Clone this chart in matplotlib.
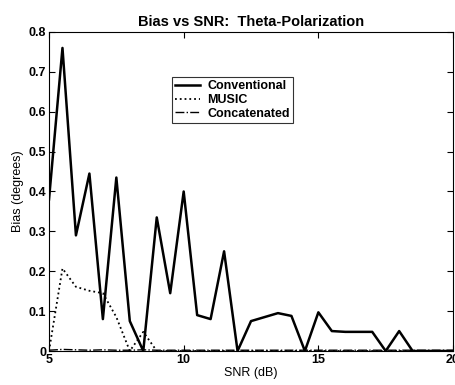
import matplotlib
matplotlib.use("Agg")
import matplotlib.pyplot as plt

snr = [5 + 0.5 * i for i in range(31)]

conventional = [0.38, 0.76, 0.29, 0.445, 0.08, 0.435, 0.075, 0.0, 0.335, 0.145,
                0.40, 0.09, 0.08, 0.25, 0.0, 0.075, 0.085, 0.095, 0.088, 0.0,
                0.097, 0.05, 0.048, 0.048, 0.048, 0.0, 0.05, 0.0, 0.0, 0.0, 0.0]

music = [0.0, 0.207, 0.161, 0.151, 0.145, 0.085, 0.0, 0.048, 0.0, 0.0,
         0.0, 0.0, 0.0, 0.0, 0.0, 0.0, 0.0, 0.0, 0.0, 0.0,
         0.0, 0.0, 0.0, 0.0, 0.0, 0.0, 0.0, 0.0, 0.0, 0.0, 0.0]

concatenated = [0.002, 0.004, 0.003, 0.002, 0.003, 0.002, 0.002, 0.003, 0.002, 0.002,
                0.002, 0.002, 0.002, 0.002, 0.002, 0.002, 0.002, 0.002, 0.002, 0.002,
                0.002, 0.002, 0.002, 0.002, 0.002, 0.002, 0.002, 0.002, 0.002, 0.002, 0.002]

plt.rcParams['font.family'] = ['Liberation Sans', 'DejaVu Sans']

fig = plt.figure(figsize=(4.55, 3.85), dpi=100)
ax = fig.add_axes([0.1077, 0.0883, 0.888, 0.8286])

ax.plot(snr, conventional, color='black', lw=1.8, ls='-', label='Conventional')
ax.plot(snr, music, color='black', lw=1.3, ls=':', label='MUSIC')
ax.plot(snr, concatenated, color='black', lw=1.0, ls='-.', label='Concatenated')

ax.set_xlim(5, 20)
ax.set_ylim(0, 0.8)
ax.set_xticks([5, 10, 15, 20])
ax.set_yticks([0, 0.1, 0.2, 0.3, 0.4, 0.5, 0.6, 0.7, 0.8])
ax.set_yticklabels(['0', '0.1', '0.2', '0.3', '0.4', '0.5', '0.6', '0.7', '0.8'])
ax.tick_params(direction='in', top=True, right=True, length=4, labelsize=9, pad=2)
for lab in ax.get_xticklabels() + ax.get_yticklabels():
    lab.set_fontweight('bold')

ax.set_title("Bias vs SNR:  Theta-Polarization", fontsize=10.5, fontweight='bold', pad=4)
ax.set_xlabel("SNR (dB)", fontsize=9, labelpad=1)
ax.set_ylabel("Bias (degrees)", fontsize=9, labelpad=3)

leg = ax.legend(loc='upper left', bbox_to_anchor=(0.304, 0.859),
                prop={'weight': 'bold', 'size': 9}, frameon=True, fancybox=False,
                handlelength=2.0, handletextpad=0.6, borderpad=0.25, labelspacing=0.15,
                borderaxespad=0)
leg.get_frame().set_edgecolor('black')
leg.get_frame().set_linewidth(0.8)

plt.savefig('out.png', dpi=100)
